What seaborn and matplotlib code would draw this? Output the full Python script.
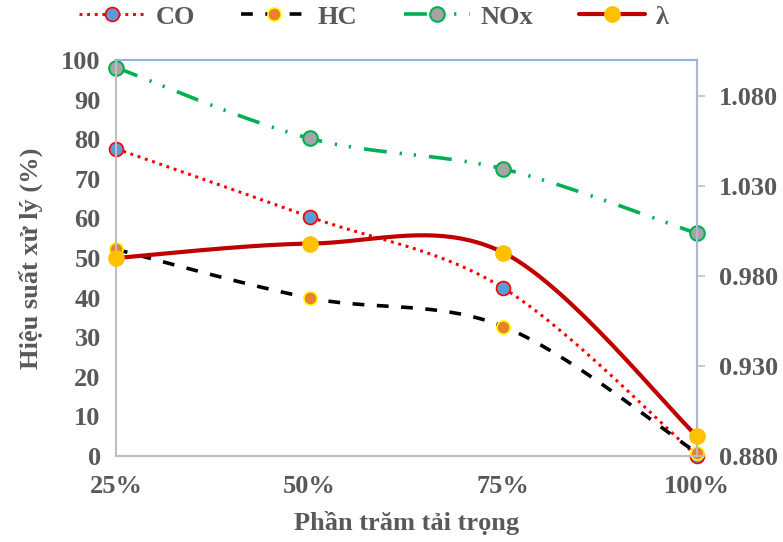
import numpy as np
import pandas as pd
import matplotlib
matplotlib.use("Agg")
import matplotlib.pyplot as plt
from matplotlib.lines import Line2D
import seaborn as sns

# ---- data ----
categories = ["25%", "50%", "75%", "100%"]
co = [77.6, 60.4, 42.4, 0.0]
hc = [52.2, 39.9, 32.7, 0.8]
nox = [98.1, 80.2, 72.5, 56.2]
lam = [0.990, 0.998, 0.993, 0.891]
left_ticks = [0, 10, 20, 30, 40, 50, 60, 70, 80, 90, 100]
right_ticks = [0.880, 0.930, 0.980, 1.030, 1.080]

sns.set_theme(style="white")
plt.rcParams["font.family"] = ["Liberation Serif", "DejaVu Serif"]
plt.rcParams["font.weight"] = "bold"
plt.rcParams["lines.scale_dashes"] = False
TXT = "#595959"
FS = 19


def excel_smooth(yvals, n=60):
    x = np.arange(len(yvals), dtype=float)
    pts = np.column_stack([x, np.asarray(yvals, dtype=float)])
    out = []
    for i in range(len(pts) - 1):
        p0 = pts[i - 1] if i > 0 else pts[i]
        p1 = pts[i]
        p2 = pts[i + 1]
        p3 = pts[i + 2] if i + 2 < len(pts) else pts[i + 1]
        c1 = p1 + (p2 - p0) / 6.0
        c2 = p2 - (p3 - p1) / 6.0
        t = np.linspace(0, 1, n)[:, None]
        seg = (1 - t) ** 3 * p1 + 3 * (1 - t) ** 2 * t * c1 + 3 * (1 - t) * t ** 2 * c2 + t ** 3 * p2
        out.append(seg if i == 0 else seg[1:])
    return np.vstack(out)


fig = plt.figure(figsize=(7.83, 5.42), dpi=100)
ax = fig.add_axes([116 / 783, 1 - 456 / 542, (697 - 116) / 783, (456 - 60) / 542])
ax2 = ax.twinx()

xpos = np.arange(len(categories))

styles = {
    "CO": dict(data=co, color="#FF0000", lw=2.2, ls=(0, (2.1, 3.4)),
               mfc="#5B9BD5", mec="#FF0000", ms=10, mew=1.2),
    "HC": dict(data=hc, color="#000000", lw=2.6, ls=(0, (8.5, 9.0)),
               mfc="#ED7D31", mec="#FFFF00", ms=9.5, mew=1.2),
    "NOx": dict(data=nox, color="#00B050", lw=2.6,
                ls=(0, (16.5, 9.4, 1.6, 8.6, 1.6, 9.4)),
                mfc="#A5A5A5", mec="#00B050", ms=10.5, mew=1.5),
}

for name, s in styles.items():
    sm = excel_smooth(s["data"])
    df = pd.DataFrame({"x": sm[:, 0], "y": sm[:, 1]})
    sns.lineplot(data=df, x="x", y="y", ax=ax, sort=False, estimator=None,
                 color=s["color"], linewidth=s["lw"], linestyle=s["ls"], clip_on=False)
    ax.plot(xpos, s["data"], linestyle="none", marker="o", ms=s["ms"],
            mfc=s["mfc"], mec=s["mec"], mew=s["mew"], clip_on=False, zorder=5)

sm = excel_smooth(lam)
dfl = pd.DataFrame({"x": sm[:, 0], "y": sm[:, 1]})
sns.lineplot(data=dfl, x="x", y="y", ax=ax2, sort=False, estimator=None,
             color="#C00000", linewidth=3.0, clip_on=False)
ax2.plot(xpos, lam, linestyle="none", marker="o", ms=11, mfc="#FFC000",
         mec="#FFC000", clip_on=False, zorder=6)

# axes ranges
ax.set_xlim(0, len(categories) - 1)
ax.set_ylim(0, 100)
ax2.set_ylim(0.880, 1.100)
ax.set_xticks(xpos)
ax.set_xticklabels(categories)
ax.set_yticks(left_ticks)
ax2.set_yticks(right_ticks)
ax2.set_yticklabels([f"{v:.3f}" for v in right_ticks])

for a in (ax, ax2):
    a.set_xlabel("")
    a.set_ylabel("")
    a.grid(False)

ax.tick_params(axis="x", length=0, pad=14, labelsize=FS, labelcolor=TXT)
ax.tick_params(axis="y", length=0, pad=11, labelsize=FS, labelcolor=TXT)
ax2.tick_params(axis="y", length=6, width=1.2, color="#BFBFBF", pad=10,
                labelsize=FS, labelcolor=TXT, right=True)

ax.set_xlabel("Phần trăm tải trọng", fontsize=FS, color=TXT, fontweight="bold", labelpad=9)
ax.set_ylabel("Hiệu suất xử lý (%)", fontsize=FS, color=TXT, fontweight="bold", labelpad=13)

for a in (ax, ax2):
    a.spines["left"].set_color("#BFBFBF")
    a.spines["bottom"].set_color("#BFBFBF")
    a.spines["top"].set_color("#8DB4E2")
    a.spines["right"].set_color("#ADB9CA")
    for sp in a.spines.values():
        sp.set_linewidth(1.5)

# legend
handles = []
labels = []
for name, s in styles.items():
    handles.append(Line2D([], [], color=s["color"], lw=s["lw"], ls=s["ls"], marker="o",
                          ms=s["ms"], mfc=s["mfc"], mec=s["mec"], mew=s["mew"]))
    labels.append(name)
handles.append(Line2D([], [], color="#C00000", lw=3.0, marker="o", ms=11,
                      mfc="#FFC000", mec="#FFC000"))
labels.append("λ")

leg = fig.legend(handles, labels, loc="center left", bbox_to_anchor=(66 / 783, 1 - 17 / 542),
                 ncol=4, frameon=False, borderpad=0, handlelength=2.5, handletextpad=0.4,
                 columnspacing=1.75, prop={"size": FS, "weight": "bold"})
for t in leg.get_texts():
    t.set_color(TXT)

fig.savefig("out.png", dpi=100)
